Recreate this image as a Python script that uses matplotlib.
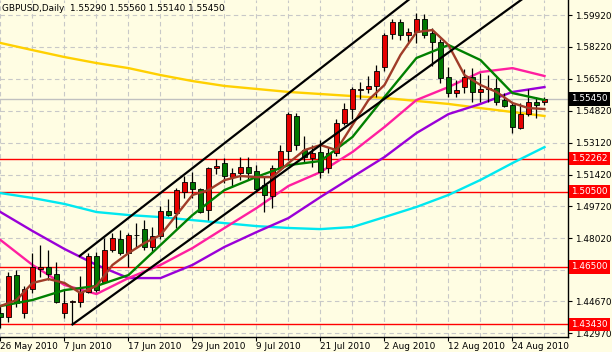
import matplotlib
matplotlib.use("Agg")
import matplotlib.pyplot as plt
import matplotlib.transforms as mtransforms
import numpy as np
import pandas as pd

# ---------------- data ----------------
dates = pd.bdate_range("2010-05-26", "2010-08-30")

opens = [1.4404, 1.4383, 1.4606, 1.4404, 1.4532, 1.4638, 1.4649, 1.4612, 1.4404, 1.4462,
         1.4462, 1.4516, 1.4707, 1.4569, 1.4739, 1.4798, 1.4723, 1.4819, 1.4851, 1.4755,
         1.4814, 1.4947, 1.4937, 1.5049, 1.5102, 1.5065, 1.4953, 1.5176, 1.5203, 1.5128,
         1.5150, 1.5182, 1.5160, 1.5086, 1.5027, 1.5176, 1.5267, 1.5454, 1.5272, 1.5230,
         1.5262, 1.5176, 1.5256, 1.5416, 1.5491, 1.5592, 1.5598, 1.5614, 1.5715, 1.5891,
         1.5955, 1.5885, 1.5901, 1.5971, 1.5896, 1.5848, 1.5662, 1.5576, 1.5608, 1.5662,
         1.5582, 1.5598, 1.5603, 1.5539, 1.5512, 1.5390, 1.5464, 1.5528, 1.5529]
highs = [1.4446, 1.4622, 1.4633, 1.4548, 1.4723, 1.4766, 1.4739, 1.4676, 1.4526, 1.4473,
         1.4601, 1.4723, 1.4729, 1.4803, 1.4830, 1.4846, 1.4830, 1.4883, 1.4899, 1.4862,
         1.4974, 1.5011, 1.5070, 1.5134, 1.5155, 1.5070, 1.5182, 1.5224, 1.5230, 1.5176,
         1.5235, 1.5235, 1.5192, 1.5128, 1.5192, 1.5299, 1.5475, 1.5470, 1.5347, 1.5299,
         1.5326, 1.5288, 1.5438, 1.5523, 1.5608, 1.5635, 1.5667, 1.5726, 1.5896, 1.5971,
         1.5971, 1.5923, 1.6003, 1.5997, 1.5923, 1.5864, 1.5715, 1.5646, 1.5704, 1.5709,
         1.5683, 1.5672, 1.5656, 1.5576, 1.5523, 1.5523, 1.5598, 1.5555, 1.5556]
lows = [1.4322, 1.4356, 1.4436, 1.4377, 1.4510, 1.4596, 1.4580, 1.4457, 1.4377, 1.4343,
        1.4436, 1.4510, 1.4516, 1.4564, 1.4729, 1.4713, 1.4649, 1.4750, 1.4739, 1.4729,
        1.4798, 1.4921, 1.4857, 1.5017, 1.5017, 1.4937, 1.4899, 1.5144, 1.5096, 1.5075,
        1.5112, 1.5112, 1.5049, 1.4942, 1.4963, 1.5166, 1.5219, 1.5272, 1.5208, 1.5182,
        1.5123, 1.5150, 1.5240, 1.5406, 1.5438, 1.5544, 1.5576, 1.5555, 1.5694, 1.5864,
        1.5859, 1.5848, 1.5843, 1.5869, 1.5720, 1.5630, 1.5555, 1.5555, 1.5576, 1.5528,
        1.5528, 1.5528, 1.5512, 1.5502, 1.5363, 1.5384, 1.5454, 1.5443, 1.5514]
closes = [1.4383, 1.4601, 1.4457, 1.4532, 1.4649, 1.4649, 1.4612, 1.4462, 1.4457, 1.4468,
          1.4516, 1.4707, 1.4526, 1.4739, 1.4803, 1.4723, 1.4819, 1.4822, 1.4755, 1.4814,
          1.4947, 1.4926, 1.5059, 1.5102, 1.5065, 1.4942, 1.5176, 1.5187, 1.5134, 1.5150,
          1.5182, 1.5150, 1.5065, 1.5033, 1.5176, 1.5267, 1.5464, 1.5299, 1.5235, 1.5256,
          1.5155, 1.5256, 1.5416, 1.5491, 1.5598, 1.5598, 1.5614, 1.5694, 1.5885, 1.5955,
          1.5885, 1.5901, 1.5971, 1.5885, 1.5848, 1.5656, 1.5576, 1.5592, 1.5662, 1.5582,
          1.5598, 1.5603, 1.5528, 1.5507, 1.5395, 1.5464, 1.5528, 1.5512, 1.5545]

# moving averages sampled every 4 bars (bar 0, 4, ..., 68)
ma_idx4 = list(range(0, 69, 4))
ma_yellow = [1.5843, 1.5805, 1.5768, 1.5736, 1.5709, 1.5672, 1.5640, 1.5614, 1.5598,
             1.5582, 1.5571, 1.5560, 1.5550, 1.5534, 1.5518, 1.5496, 1.5475, 1.5454]
ma_cyan = [1.5043, 1.5017, 1.4985, 1.4942, 1.4926, 1.4915, 1.4899, 1.4883, 1.4867,
           1.4857, 1.4851, 1.4862, 1.4915, 1.4969, 1.5033, 1.5113, 1.5203, 1.5288]
ma_purple = [1.4942, 1.4841, 1.4745, 1.4660, 1.4590, 1.4590, 1.4660, 1.4756, 1.4835,
             1.4910, 1.5022, 1.5129, 1.5235, 1.5363, 1.5464, 1.5518, 1.5582, 1.5608]
ma_magenta = [1.4793, 1.4660, 1.4553, 1.4505, 1.4590, 1.4660, 1.4750, 1.4857, 1.4963,
              1.5081, 1.5155, 1.5262, 1.5395, 1.5539, 1.5608, 1.5688, 1.5709, 1.5667]
ma_green = [1.4441, 1.4473, 1.4526, 1.4548, 1.4606, 1.4766, 1.4926, 1.5059, 1.5129,
            1.5192, 1.5214, 1.5342, 1.5555, 1.5763, 1.5832, 1.5752, 1.5576, 1.5539]
# fast MA sampled every 2 bars
ma_idx2 = list(range(0, 69, 2))
ma_brown = [1.4441, 1.4473, 1.4564, 1.4585, 1.4564, 1.4510, 1.4548, 1.4660, 1.4723,
            1.4777, 1.4819, 1.4926, 1.5033, 1.5059, 1.5112, 1.5134, 1.5128, 1.5128,
            1.5203, 1.5272, 1.5299, 1.5272, 1.5406, 1.5539, 1.5619, 1.5779, 1.5901,
            1.5912, 1.5832, 1.5672, 1.5619, 1.5582, 1.5523, 1.5496, 1.5491]

# trend lines (bar index, price)
upper_line = [(9.9, 1.4708), (55.0, 1.6205)]
lower_line = [(9.0, 1.4343), (70.0, 1.6224)]

level_lines = [1.52262, 1.50500, 1.46500, 1.43430]
last_price = 1.55450

price_ticks = [1.59920, 1.58220, 1.56520, 1.54820, 1.53120, 1.51420, 1.49720,
               1.48020, 1.46345, 1.44670, 1.42970]
price_tick_labels = ["1.59920", "1.58220", "1.56520", "1.54820", "1.53120", "1.51420",
                     "1.49720", "1.48020", "", "1.44670", "1.42970"]
date_tick_labels = ["26 May 2010", "7 Jun 2010", "17 Jun 2010", "29 Jun 2010",
                    "9 Jul 2010", "21 Jul 2010", "2 Aug 2010", "12 Aug 2010",
                    "24 Aug 2010"]
title = "GBPUSD,Daily  1.55290 1.55560 1.55140 1.55450"

# ---------------- figure ----------------
W, H = 612, 352
BG = "#FFFDE3"
FS = 6.4
fig = plt.figure(figsize=(W / 100, H / 100), dpi=100, facecolor=BG)
ax = fig.add_axes([0, 1 - 337 / H, 568 / W, 337 / H])
ax.set_facecolor(BG)

n = len(closes)
x = np.arange(n)
ax.set_xlim(-0.06, 70.94)
ax.set_ylim(1.4276, 1.6072)

# grid
for xi in range(0, n + 3, 4):
    ax.axvline(xi, color="#C8C8C8", lw=0.8, ls=(0, (4, 3)), zorder=0)
for p in price_ticks:
    ax.axhline(p, color="#C8C8C8", lw=0.8, ls=(0, (4, 3)), zorder=0)

# bid line
ax.axhline(last_price, color="#C0C0C0", lw=1.0, zorder=1)

# level lines
for lv in level_lines:
    ax.axhline(lv, color="#FF0000", lw=1.0, zorder=2)

# moving averages
ax.plot(ma_idx4, ma_yellow, color="#FFD000", lw=1.7, zorder=3)
ax.plot(ma_idx4, ma_cyan, color="#00E8F0", lw=1.7, zorder=3)
ax.plot(ma_idx4, ma_purple, color="#9A00D8", lw=1.7, zorder=3)
ax.plot(ma_idx4, ma_magenta, color="#FF1FA0", lw=1.7, zorder=3)

# candles
up_col, dn_col = "#E60000", "#007800"
for i in range(n):
    o, h, l, c = opens[i], highs[i], lows[i], closes[i]
    ax.vlines(x[i], l, h, color="black", lw=0.9, zorder=4)
    col = up_col if c >= o else dn_col
    bot = min(o, c)
    hgt = max(abs(c - o), 0.00025)
    ax.bar(x[i], hgt, bottom=bot, width=0.55, color=col, edgecolor="black",
           linewidth=0.6, zorder=5)

ax.plot(ma_idx4, ma_green, color="#008000", lw=1.7, zorder=6)
ax.plot(ma_idx2, ma_brown, color="#A03C28", lw=1.7, zorder=6)

# trend lines
for ln in (upper_line, lower_line):
    ax.plot([ln[0][0], ln[1][0]], [ln[0][1], ln[1][1]], color="black", lw=1.6,
            zorder=7)

# axes styling
for s in ("left", "top"):
    ax.spines[s].set_visible(False)
ax.spines["right"].set_color("black")
ax.spines["bottom"].set_color("black")
ax.spines["right"].set_linewidth(1.0)
ax.spines["bottom"].set_linewidth(1.0)

ax.yaxis.tick_right()
ax.set_yticks(price_ticks)
ax.set_yticklabels(price_tick_labels)
ax.tick_params(axis="y", direction="out", length=3, width=0.8, pad=2,
               labelsize=FS, colors="black")

ax.set_xticks(list(range(0, 65, 8)))
ax.set_xticklabels(date_tick_labels)
ax.tick_params(axis="x", direction="out", length=3, width=0.8, pad=0.5,
               labelsize=FS, colors="black")
for lab in ax.get_xticklabels():
    lab.set_horizontalalignment("left")

# price labels (boxes) on axis
trans = mtransforms.blended_transform_factory(ax.transAxes, ax.transData)
for lv in level_lines:
    ax.text(1.006, lv, f"{lv:.5f}", transform=trans, ha="left", va="center",
            fontsize=FS, color="white", zorder=10, clip_on=False,
            bbox=dict(boxstyle="square,pad=0.25", fc="#FF0000", ec="none"))
ax.text(1.006, last_price, f"{last_price:.5f}", transform=trans, ha="left",
        va="center", fontsize=FS, color="white", zorder=10, clip_on=False,
        bbox=dict(boxstyle="square,pad=0.25", fc="black", ec="none"))

# title
ax.text(0.004, 0.988, title, transform=ax.transAxes, ha="left", va="top",
        fontsize=FS, color="black", zorder=11)

fig.savefig("out.png", dpi=100, facecolor=BG)
